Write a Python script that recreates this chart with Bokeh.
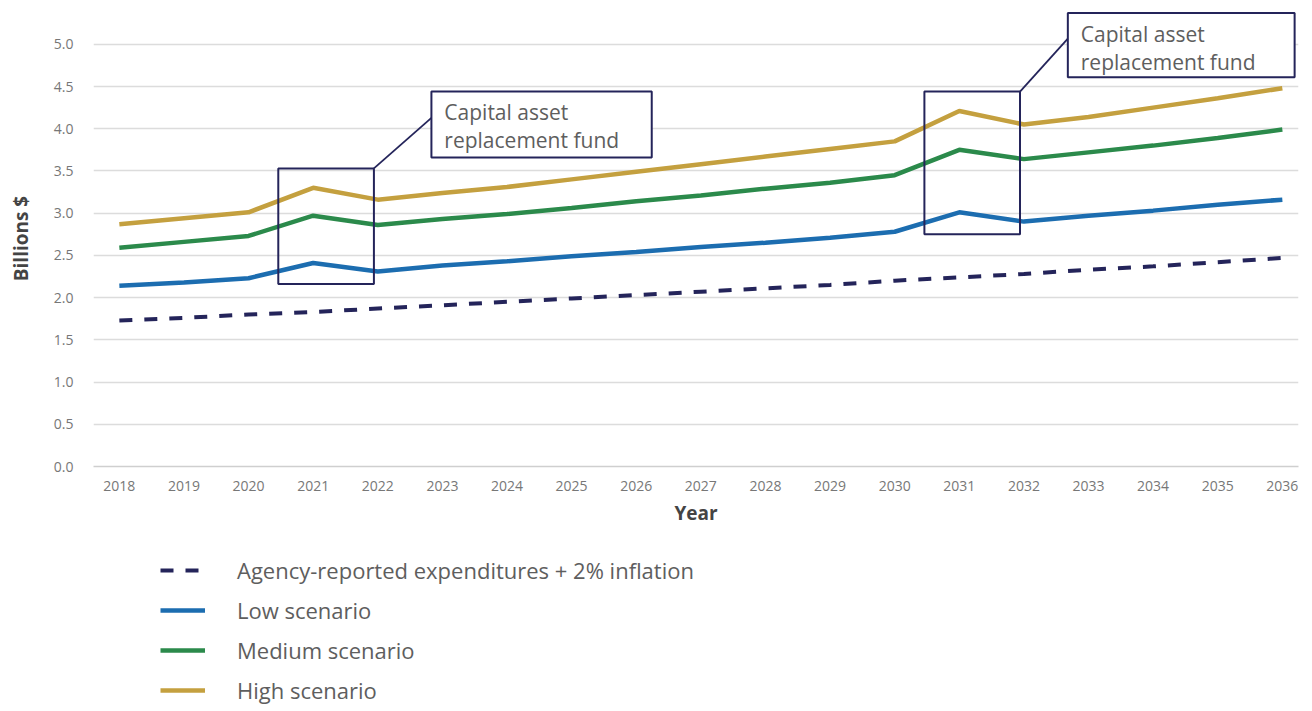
from bokeh.plotting import figure
from bokeh.layouts import column
from bokeh.models import (ColumnDataSource, FixedTicker, NumeralTickFormatter, Legend, LegendItem, Range1d)
from bokeh.core.properties import value
from bokeh.embed import file_html
from bokeh.resources import INLINE

years = list(range(2018, 2037))
agency = [1.73, 1.76, 1.80, 1.83, 1.87, 1.91, 1.95, 1.99, 2.03, 2.07, 2.11, 2.15, 2.20, 2.24, 2.28, 2.33, 2.37, 2.42, 2.47]
low = [2.14, 2.18, 2.23, 2.41, 2.31, 2.38, 2.43, 2.49, 2.54, 2.60, 2.65, 2.71, 2.78, 3.01, 2.90, 2.97, 3.03, 3.10, 3.16]
medium = [2.59, 2.66, 2.73, 2.97, 2.86, 2.93, 2.99, 3.06, 3.14, 3.21, 3.29, 3.36, 3.45, 3.75, 3.64, 3.72, 3.80, 3.89, 3.99]
high = [2.87, 2.94, 3.01, 3.30, 3.16, 3.24, 3.31, 3.40, 3.49, 3.58, 3.67, 3.76, 3.85, 4.21, 4.05, 4.14, 4.25, 4.36, 4.48]
y_ticks = [0.0, 0.5, 1.0, 1.5, 2.0, 2.5, 3.0, 3.5, 4.0, 4.5, 5.0]
labels = ["Agency-reported expenditures + 2% inflation", "Low scenario", "Medium scenario", "High scenario"]
fund_years = [2021, 2031]
callout_text = "Capital asset\nreplacement fund"

FONT = "Open Sans"
NAVY = "#24245a"
BLUE = "#1c6db0"
GREEN = "#2b8a4b"
GOLD = "#c4a03f"
TXT = "#5e5e5e"

src = ColumnDataSource(dict(year=years, agency=agency, low=low, medium=medium, high=high))

p = figure(width=1305, height=540, output_backend="svg", toolbar_location=None,
           x_range=Range1d(2017.6, 2036.25), y_range=Range1d(0, 5.40),
           min_border_left=93, min_border_right=7, min_border_top=10, min_border_bottom=74)
p.outline_line_color = None

line_styles = dict(agency=(NAVY, 4, "13 12"), low=(BLUE, 4.5, "solid"),
                   medium=(GREEN, 4.5, "solid"), high=(GOLD, 4.5, "solid"))
for key, (c, w, d) in line_styles.items():
    p.line("year", key, source=src, line_color=c, line_width=w, line_dash=d)

# zoom boxes around the capital asset replacement fund years
callouts = [(2022.83, 4.44, 3.41, 0.78), (2032.68, 5.37, 3.51, 0.76)]
for fy, (cx, ctop, cw, ch) in zip(fund_years, callouts):
    i = years.index(fy)
    bl = min(low[i], low[i + 1]) - 0.15
    bt = max(high[i], high[i + 1]) + 0.23
    bx0, bx1 = fy - 0.54, fy + 0.94
    p.quad(left=[bx0], right=[bx1], bottom=[bl], top=[bt], fill_color=None,
           line_color=NAVY, line_width=2)
    p.segment(x0=[bx1], y0=[bt], x1=[cx], y1=[ctop - 0.4 * ch], line_color=NAVY, line_width=1.8)
    p.quad(left=[cx], right=[cx + cw], bottom=[ctop - ch], top=[ctop], fill_color="white",
           line_color=NAVY, line_width=2)
    p.text(x=[cx + 0.2], y=[ctop - 0.08], text=[callout_text], text_font=value(FONT),
           text_font_size="21px", text_color=TXT, text_baseline="top", text_line_height=1.0)

p.xaxis.ticker = FixedTicker(ticks=years)
p.yaxis.ticker = FixedTicker(ticks=y_ticks)
p.yaxis.formatter = NumeralTickFormatter(format="0.0")
p.xgrid.grid_line_color = None
p.ygrid.grid_line_color = "#dcdcdc"
p.ygrid.grid_line_width = 1.5

for ax in (p.xaxis, p.yaxis):
    ax.major_tick_line_color = None
    ax.minor_tick_line_color = None
    ax.major_label_text_font = FONT
    ax.major_label_text_font_size = "14px"
    ax.major_label_text_color = "#777777"
    ax.axis_label_text_font = FONT
    ax.axis_label_text_font_size = "19px"
    ax.axis_label_text_font_style = "bold"
    ax.axis_label_text_color = "#444444"
p.yaxis.axis_line_color = None
p.xaxis.axis_line_color = "#cfcfcf"
p.xaxis.axis_line_width = 1.5
p.xaxis.axis_label = "Year"
p.yaxis.axis_label = "Billions $"
p.xaxis.major_label_standoff = 8
p.xaxis.axis_label_standoff = 6
p.yaxis.major_label_standoff = 14
p.yaxis.axis_label_standoff = 17

# legend figure below the chart
p2 = figure(width=1305, height=170, output_backend="svg", toolbar_location=None,
            x_range=Range1d(0, 1), y_range=Range1d(0, 1), x_axis_type=None, y_axis_type=None,
            min_border_left=93, min_border_right=7, min_border_top=0, min_border_bottom=0)
p2.outline_line_color = None
p2.xgrid.grid_line_color = None
p2.ygrid.grid_line_color = None
items = []
for lab, (key, (c, w, d)) in zip(labels, line_styles.items()):
    # off-screen stand-in renderer, only used for the legend swatch
    r = p2.line(x=[-5, -4], y=[-5, -5], line_color=c, line_width=w, line_dash=d)
    items.append(LegendItem(label=lab, renderers=[r]))
legend = Legend(items=items, location=(67, 0), orientation="vertical",
                glyph_width=45, glyph_height=40, label_height=40, spacing=0,
                label_standoff=32, padding=0, margin=0,
                label_text_font=FONT, label_text_font_size="22px", label_text_color=TXT,
                background_fill_alpha=0, border_line_color=None)
p2.add_layout(legend, "center")

layout = column(p, p2, spacing=0)
open("out.html", "w").write(file_html(layout, INLINE))
